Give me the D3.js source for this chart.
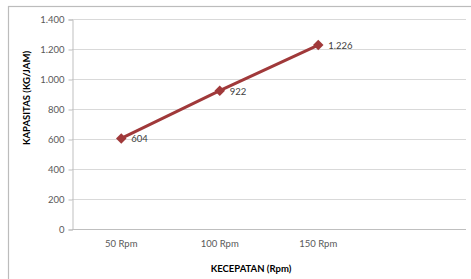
<!DOCTYPE html>
<html><head><meta charset="utf-8">
<script src="https://cdn.jsdelivr.net/npm/d3@7"></script>
<style>
html,body{margin:0;padding:0;background:#fff;}
svg{display:block;font-family:Lato,"Open Sans",sans-serif;}
</style></head>
<body>
<script>
const categories = ["50 Rpm", "100 Rpm", "150 Rpm", ""];
const values = [604, 922, 1226];
const valueLabels = ["604", "922", "1.226"];
const yTicks = [0, 200, 400, 600, 800, 1000, 1200, 1400];
const yTitle = "KAPASITAS (KG/JAM)";
const xTitle = "KECEPATAN (Rpm)";

(function () {
const W = 471, H = 279;
const svg = d3.select("body").append("svg").attr("width", W).attr("height", H);

// frame
svg.append("rect").attr("x", 8.5).attr("y", 6.5).attr("width", 470).attr("height", 300)
  .attr("fill", "#fff").attr("stroke", "#bcbcbc").attr("stroke-width", 1.2);

const pLeft = 72, pRight = 466, pTop = 19, pBottom = 229;
const x = d3.scaleBand().domain(categories).range([pLeft, pRight]);
const y = d3.scaleLinear().domain([0, 1400]).range([pBottom, pTop]);
const fmt = d => d3.format(",")(d).replace(/,/g, ".");

// gridlines
svg.append("g").selectAll("line").data(yTicks.filter(d => d > 0)).join("line")
  .attr("x1", pLeft).attr("x2", pRight)
  .attr("y1", d => Math.round(y(d)) + 0.5).attr("y2", d => Math.round(y(d)) + 0.5)
  .attr("stroke", "#d9d9d9").attr("stroke-width", 1);

// y axis
const yAxis = svg.append("g").attr("transform", `translate(${pLeft + 0.5},0.5)`)
  .call(d3.axisLeft(y).tickValues(yTicks).tickFormat(fmt).tickSize(4).tickPadding(4));
yAxis.select(".domain").attr("stroke", "#bfbfbf");
yAxis.selectAll(".tick line").attr("stroke", "#bfbfbf");
yAxis.selectAll(".tick text").attr("fill", "#595959").style("font-size", "9.5px")
  .style("font-family", "Lato,'Open Sans',sans-serif");

// x axis
const xAxis = svg.append("g").attr("transform", `translate(0,${pBottom + 0.5})`)
  .call(d3.axisBottom(x).tickSize(0).tickPadding(11));
xAxis.select(".domain").attr("stroke", "#bfbfbf").attr("d", `M${pLeft},0H${pRight}`);
xAxis.selectAll(".tick text").attr("fill", "#595959").style("font-size", "9.5px")
  .style("font-family", "Lato,'Open Sans',sans-serif");

// line
const pts = values.map((v, i) => [x(categories[i]) + x.bandwidth() / 2, y(v)]);
svg.append("path").datum(pts).attr("d", d3.line())
  .attr("fill", "none").attr("stroke", "#a0393a").attr("stroke-width", 3);

svg.append("g").selectAll("path").data(pts).join("path")
  .attr("d", d3.symbol(d3.symbolDiamond2, 70))
  .attr("transform", d => `translate(${d[0]},${d[1]})`)
  .attr("fill", "#a0393a");

svg.append("g").selectAll("text").data(pts).join("text")
  .attr("x", d => d[0] + 10).attr("y", d => d[1] + 4)
  .attr("fill", "#404040").style("font-size", "9.5px")
  .text((d, i) => valueLabels[i]);

// titles
svg.append("text").attr("transform", `translate(29.5,98) rotate(-90)`)
  .attr("text-anchor", "middle").style("font-size", "9.5px").style("font-weight", "bold")
  .attr("fill", "#000").text(yTitle);
svg.append("text").attr("x", 251).attr("y", 271.5)
  .attr("text-anchor", "middle").style("font-size", "9.5px").style("font-weight", "bold")
  .attr("fill", "#000").text(xTitle);
})();
</script>
</body></html>
